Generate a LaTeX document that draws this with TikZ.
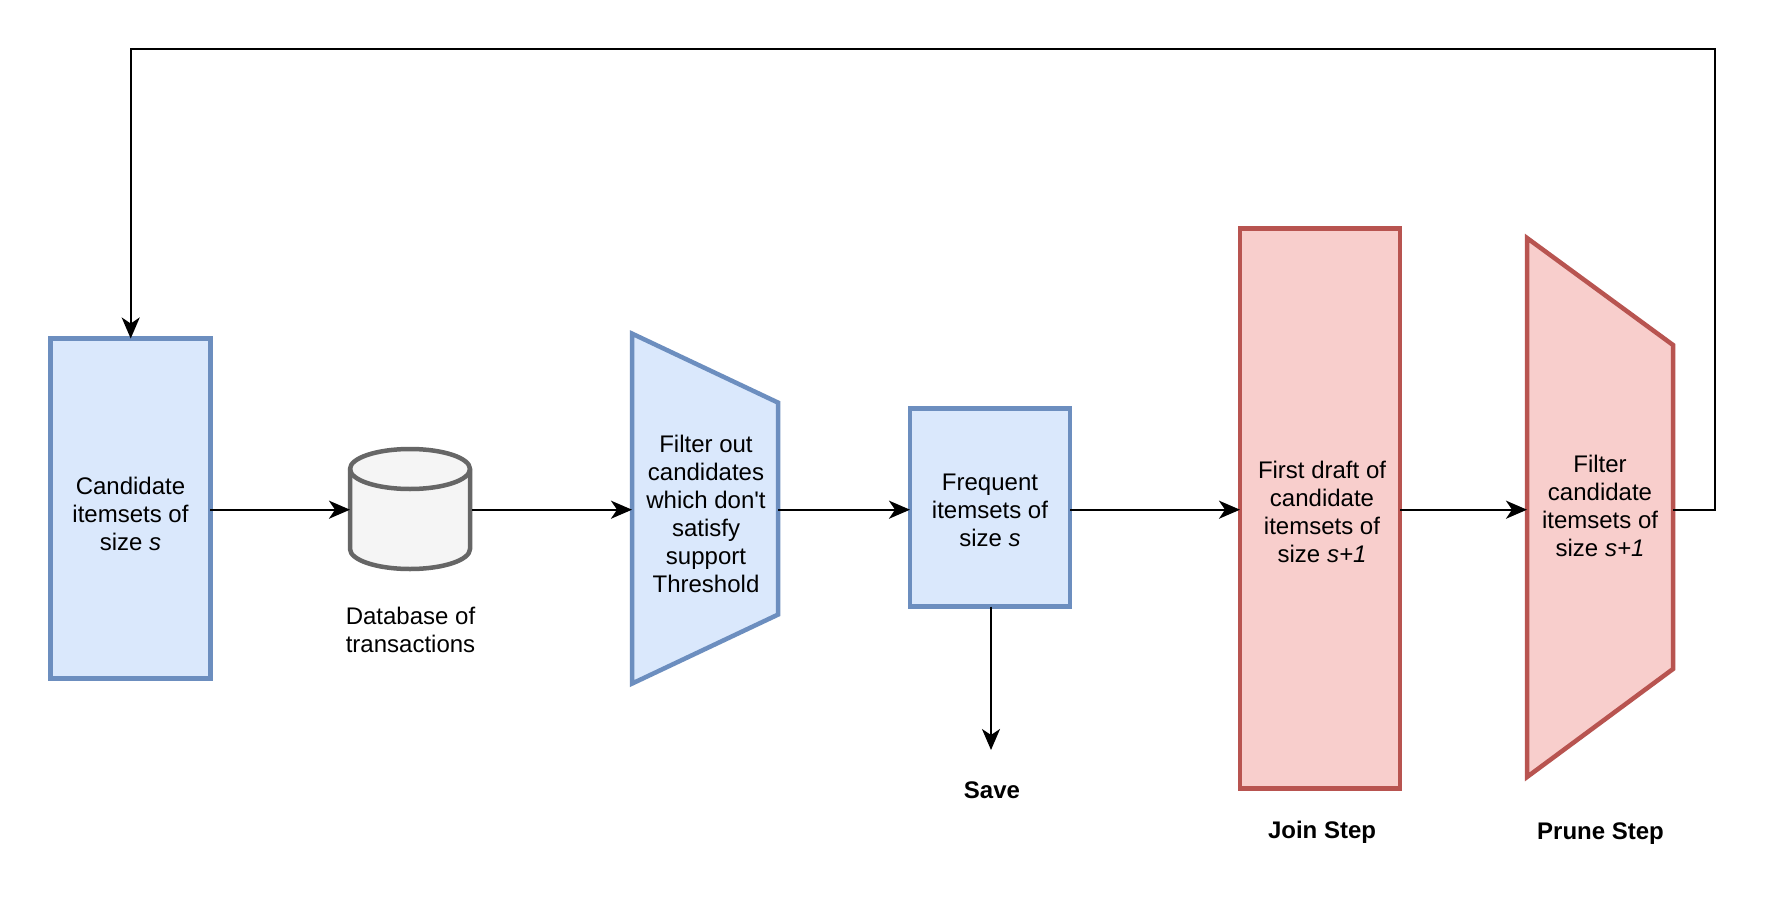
\documentclass[tikz,border=0pt]{standalone}
\usepackage{fontspec}
\setmainfont{Liberation Sans}[Ligatures=TeXOff]
\usetikzlibrary{arrows.meta,calc}
\definecolor{bluefill}{HTML}{DAE8FC}
\definecolor{bluedraw}{HTML}{6C8EBF}
\definecolor{redfill}{HTML}{F8CECC}
\definecolor{reddraw}{HTML}{B85450}
\definecolor{greyfill}{HTML}{F5F5F5}
\definecolor{greydraw}{HTML}{666666}
\tikzset{
  x=1pt,y=-1pt,
  lbl/.style={font=\fontsize{24}{28}\selectfont,align=center,inner sep=0,outer sep=0},
  boldlbl/.style={lbl,font=\fontsize{24}{28}\selectfont\bfseries},
  bluebox/.style={draw=bluedraw,fill=bluefill,line width=4.5pt,inner sep=0,outer sep=0},
  redbox/.style={draw=reddraw,fill=redfill,line width=4.5pt,inner sep=0,outer sep=0},
  blueshape/.style={draw=bluedraw,fill=bluefill,line width=4.5pt,miter limit=10},
  redshape/.style={draw=reddraw,fill=redfill,line width=4.5pt,miter limit=10},
  ghost/.style={inner sep=0,outer sep=0},
  conn/.style={draw=black,line width=2.2pt,-{Stealth[length=21pt,width=18pt,inset=6pt]}},
}
\begin{document}
\begin{tikzpicture}
\useasboundingbox (0,0) rectangle (1766,912);
\fill[white] (0,0) rectangle (1766,912);
% blue rectangle 1
\node[bluebox,minimum width=160pt,minimum height=340pt] (cand) at (130.3,508.5) {};
\node[lbl] (candtext) at (130.5,513.7) {Candidate\\itemsets of\\size \textit{s}};
% cylinder
\node[ghost,minimum width=120pt,minimum height=120pt] (db) at (410,509) {};
\draw[draw=greydraw,fill=greyfill,line width=4.5pt]
  (db.north west)++(0,20) arc[start angle=180,end angle=0,x radius=60,y radius=-20]
  -- ++(0,80) arc[start angle=0,end angle=-180,x radius=60,y radius=-20] -- cycle;
\draw[draw=greydraw,line width=4.5pt]
  ($(db.north west)+(0,20)$) arc[start angle=180,end angle=360,x radius=60,y radius=-20];
\node[lbl] (dbtext) at (410.5,630.3) {Database of\\transactions};
% filter trapezoid
\node[ghost,minimum width=146pt,minimum height=350pt] (filt) at (705,508.6) {};
\draw[blueshape] (filt.north west) -- ($(filt.north east)+(0,69)$) -- ($(filt.south east)+(0,-69)$) -- (filt.south west) -- cycle;
\node[lbl] (filttext) at (706,513.7) {Filter out\\candidates\\which don't\\satisfy\\support\\Threshold};
% frequent
\node[bluebox,minimum width=160pt,minimum height=198pt] (freq) at (990,507.6) {};
\node[lbl] (freqtext) at (990,510.3) {Frequent\\itemsets of\\size \textit{s}};
% join
\node[redbox,minimum width=160pt,minimum height=560pt] (join) at (1320,508.5) {};
\node[lbl] (jointext) at (1322,512.3) {First draft of\\candidate\\itemsets of\\size \textit{s+1}};
% prune
\node[ghost,minimum width=146pt,minimum height=539pt] (prune) at (1600,507.5) {};
\draw[redshape] (prune.north west) -- ($(prune.north east)+(0,107)$) -- ($(prune.south east)+(0,-108)$) -- (prune.south west) -- cycle;
\node[lbl] (prunetext) at (1600,506.3) {Filter\\candidate\\itemsets of\\size \textit{s+1}};
% labels
\node[boldlbl] (save) at (992,790.5) {Save};
\node[boldlbl] (joinl) at (1322,832.5) {Join Step};
\node[boldlbl] (prunel) at (1600.5,833.5) {Prune Step};
% connectors
\coordinate (savetip) at (991,750);
\coordinate (loopne) at (1715,49);
\coordinate (loopnw) at (130.7,49);
\coordinate (row) at (0,509.7);
\draw[conn] (cand.east |- row) -- (db.west |- row);
\draw[conn] ($(db.east |- row)+(2,0)$) -- (filt.west |- row);
\draw[conn] (filt.east |- row) -- (freq.west |- row);
\draw[conn] (freq.east |- row) -- (join.west |- row);
\draw[conn] (join.east |- row) -- (prune.west |- row);
\draw[conn] (savetip |- freq.south) -- (savetip);
\draw[conn] (prune.east |- row) -| (loopne) -- (loopnw) -- (cand.north -| loopnw);
\end{tikzpicture}
\end{document}
